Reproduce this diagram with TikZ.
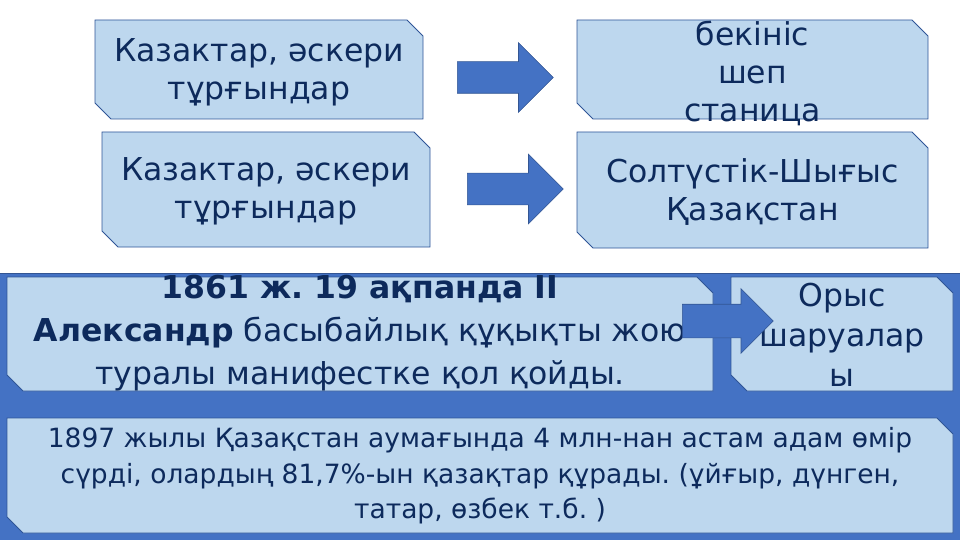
\documentclass[tikz,border=0pt]{standalone}
\usepackage{fontspec}
\setmainfont{DejaVu Sans}
\usetikzlibrary{shapes.misc,shapes.arrows}
\definecolor{boxfill}{HTML}{BDD7EE}
\definecolor{boxline}{HTML}{2F5597}
\definecolor{blockblue}{HTML}{4472C4}
\definecolor{textnavy}{HTML}{0D2A5C}
\newcommand{\snipspace}{\phantom{\rule{60pt}{40pt}}}
\frenchspacing
\begin{document}
\begin{tikzpicture}[
  x=1pt, y=-1pt,
  every node/.style={inner sep=0pt, align=center, text=textnavy},
  snipbox/.style={chamfered rectangle, chamfered rectangle corners={north east,south west},
    chamfered rectangle xsep=8pt, chamfered rectangle ysep=8pt,
    fill=boxfill, draw=boxline, line width=0.75pt},
  boxtext/.style={font=\fontsize{31.5}{38}\selectfont},
  blockarrow/.style={single arrow, anchor=tail, fill=blockblue, draw=blockblue!75!black,
    line width=0.6pt, inner ysep=15.5pt, single arrow head extend=19pt, minimum height=96pt}
]
\useasboundingbox (0,0) rectangle (960,540);
% blue band behind the lower rows
\fill[blockblue] (0,273) rectangle (960,540);
\draw[blockblue!75!black] (0,273) -- (960,273);

% upper rows
\node[snipbox, minimum width=328pt, minimum height=99pt] (kaz1) at (259,69.5) {\snipspace};
\node[boxtext] (kaz1-text) at (259,72) {Казактар, әскери\\тұрғындар};
\node[snipbox, minimum width=351pt, minimum height=99pt] (fort) at (752.5,69.5) {\snipspace};
\node[boxtext] (fort-text) at (752.5,73) {бекініс\\шеп\\станица};
\node[snipbox, minimum width=328pt, minimum height=115pt] (kaz2) at (266,189.5) {\snipspace};
\node[boxtext] (kaz2-text) at (266,191) {Казактар, әскери\\тұрғындар};
\node[snipbox, minimum width=351pt, minimum height=116pt] (north) at (752.5,190) {\snipspace};
\node[boxtext] (north-text) at (752.5,192) {Солтүстік-Шығыс\\Қазақстан};
\node[blockarrow] (arr1) at (457,77.5) {};
\node[blockarrow] (arr2) at (467,189) {};

% lower rows
\node[snipbox, minimum width=706pt, minimum height=114pt] (manifest) at (360,334) {\snipspace};
\node[boxtext, font=\fontsize{31.5}{43}\selectfont] (manifest-text) at (360,333)
  {\bfseries 1861 ж. 19 ақпанда II\\{\bfseries Александр} басыбайлық құқықты жою\\туралы манифестке қол қойды.};
\node[snipbox, minimum width=222pt, minimum height=114pt] (peasants) at (842,334) {\snipspace};
\node[boxtext, font=\fontsize{31.5}{40}\selectfont] (peasants-text) at (842,335) {Орыс\\шаруалар\\ы};
\node[blockarrow, inner ysep=16.5pt, single arrow head extend=15.5pt, minimum height=91pt] (arr3) at (682,321) {};
\node[snipbox, minimum width=946pt, minimum height=115pt] (census) at (480,475.5) {\snipspace};
\node[boxtext, font=\fontsize{26.5}{35.5}\selectfont] (census-text) at (480,476)
  {1897 жылы Қазақстан аумағында 4 млн-нан астам адам өмір\\сүрді, олардың 81,7\%-ын қазақтар құрады. (ұйғыр, дүнген,\\татар, өзбек т.б. )};
\end{tikzpicture}
\end{document}
